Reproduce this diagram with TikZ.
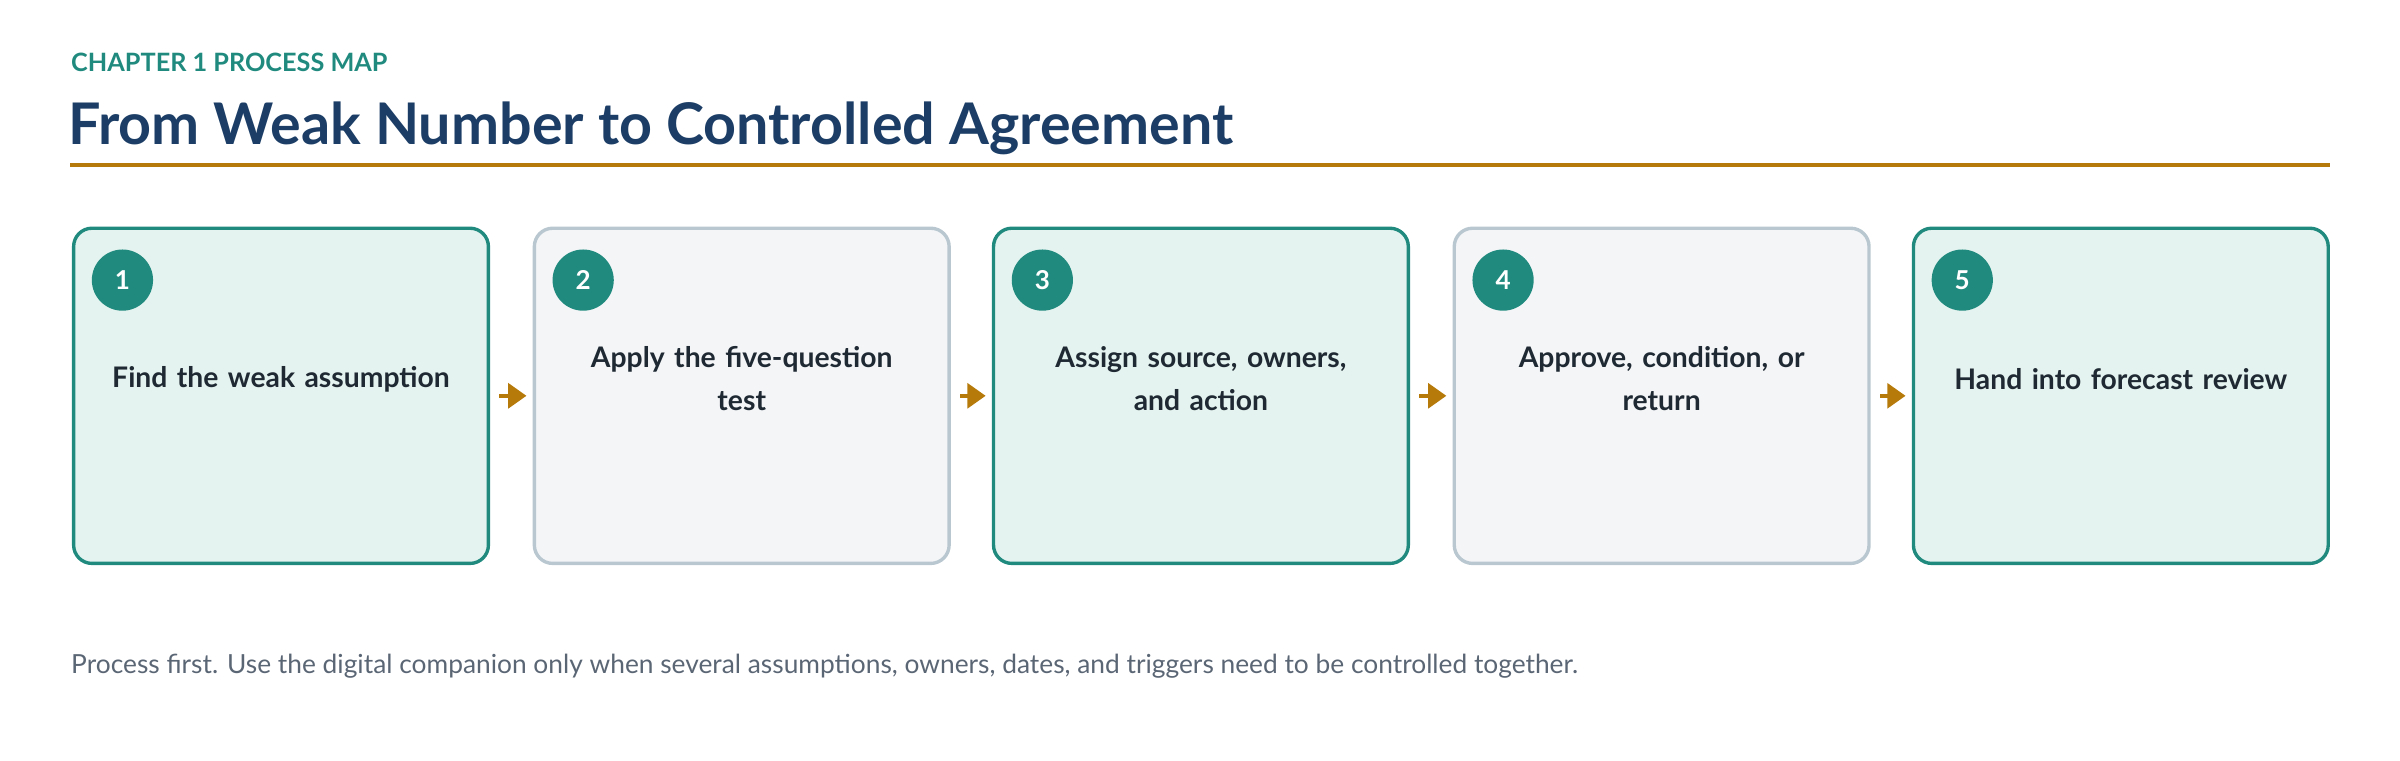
\documentclass[tikz,border=0pt]{standalone}
\usepackage{fontspec}
\setmainfont{Lato}
\usetikzlibrary{positioning,arrows.meta}
\definecolor{teal}{HTML}{218A7F}
\definecolor{tealfill}{HTML}{E4F3EF}
\definecolor{greyline}{HTML}{B9C7D0}
\definecolor{greyfill}{HTML}{F3F5F7}
\definecolor{navy}{HTML}{1C3E66}
\definecolor{ochre}{HTML}{B57A0A}
\definecolor{ink}{HTML}{1F2933}
\definecolor{muted}{HTML}{5B6675}
\tikzset{
  stepbox/.style={draw=teal, fill=tealfill, line width=2.2pt, rounded corners=12pt,
    minimum width=271pt, minimum height=219pt, anchor=north west},
  stepgrey/.style={stepbox, draw=greyline, fill=greyfill},
  steptext/.style={text width=250pt, align=center, font=\fontsize{18.5}{28}\selectfont\bfseries, text=ink},
  badge/.style={circle, fill=teal, minimum size=40pt, inner sep=0pt, text=white,
    font=\fontsize{17}{17}\selectfont\bfseries},
  flow/.style={draw=ochre, line width=3pt, -{Triangle[length=12pt,width=16pt]}}
}
\begin{document}
\begin{tikzpicture}[x=1pt,y=-1pt]
\useasboundingbox (0,0) rectangle (1568,497);
\node[anchor=west, text=teal, font=\fontsize{16.5}{16.5}\selectfont\bfseries] (kicker) at (43,41) {CHAPTER 1 PROCESS MAP};
\node[anchor=west, text=navy, font=\fontsize{37.5}{37.5}\selectfont\bfseries] (title) at (41,84) {From Weak Number to Controlled Agreement};
\draw[ochre, line width=2.5pt] (46,108) -- (1522,108);

% process steps
\node[stepbox] (s1) at (47,148) {};
\node[stepgrey] (s2) at (348,148) {};
\node[stepbox] (s3) at (648,148) {};
\node[stepgrey] (s4) at (949,148) {};
\node[stepbox] (s5) at (1249,148) {};
\foreach \i/\t in {1/Find the weak assumption, 2/{Apply the five-question\\test},
  3/{Assign source, owners,\\and action}, 4/{Approve, condition, or\\return},
  5/Hand into forecast review}{
  \node[badge] (b\i) at ([xshift=33pt,yshift=-35pt]s\i.north west) {\i};
  \node[steptext] (t\i) at ([yshift=11pt]s\i.center) {\t};
}
\foreach \a/\b in {1/2,2/3,3/4,4/5}
  \draw[flow] ([xshift=6pt]s\a.east) -- ([xshift=-4pt]s\b.west);

\node[anchor=west, text=muted, font=\fontsize{17.2}{17.2}\selectfont] (note) at (43,435)
  {Process first. Use the digital companion only when several assumptions, owners, dates, and triggers need to be controlled together.};
\end{tikzpicture}
\end{document}
